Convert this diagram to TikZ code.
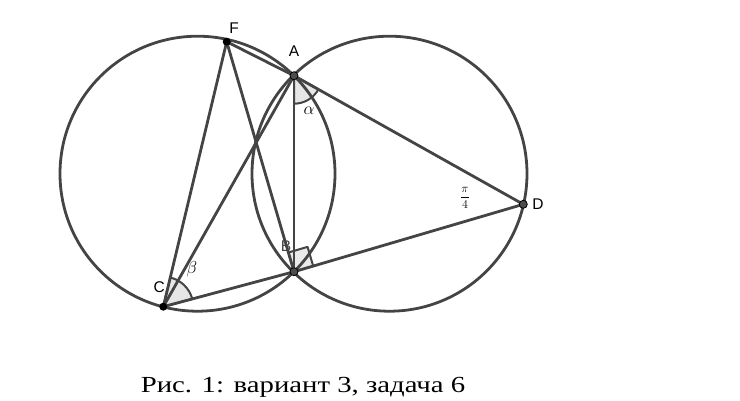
\documentclass[tikz,border=0pt]{standalone}
\usepackage[no-math]{fontspec}
\newfontfamily\capfont[FakeStretch=1.25]{Liberation Serif}
\newfontfamily\lblfont{Liberation Sans}
\definecolor{geo}{HTML}{444444}
\definecolor{geofill}{HTML}{E6E6E6}
\definecolor{ptgray}{HTML}{4D4D4D}
\begin{document}
\begin{tikzpicture}[x=1pt,y=-1pt,
  geoline/.style={draw=geo,line width=2.8pt,line cap=round},
  anglemark/.style={fill=geofill,draw=geo,line width=2pt,line join=round},
  blackpt/.style={circle,fill=black,inner sep=0pt,minimum size=8pt},
  graypt/.style={circle,fill=ptgray,draw=black,line width=0.8pt,inner sep=0pt,minimum size=8pt},
  ptlabel/.style={font=\lblfont\fontsize{15.5}{17}\selectfont,text=black,inner sep=0pt},
  mathlabel/.style={font=\fontsize{18}{20}\selectfont,inner sep=0pt}]
\useasboundingbox (0,0) rectangle (740,400);
\coordinate (F) at (226.7,41.7);
\coordinate (A) at (294,75.7);
\coordinate (B) at (294,271.7);
\coordinate (C) at (163.3,306.7);
\coordinate (D) at (523.3,204.3);
\coordinate (O1) at (197.5,173.7);
\coordinate (O2) at (389.5,173.7);
% angle marks
\filldraw[anglemark] (A) -- ++(-90:28pt) arc[start angle=-90,end angle=-29.3,radius=28pt] -- cycle;
\filldraw[anglemark] (C) -- ++(15:30pt) arc[start angle=15,end angle=76.5,radius=30pt] -- cycle;
% labels under the marks
\node[ptlabel,text=geo] (lB) at (286,246.5) {B};
\filldraw[anglemark,fill opacity=0.85] (B) -- ++(16.4:20pt) -- ++(106.3:20pt) -- ++(196.4:20pt) -- cycle;
% circles
\draw[geoline] (O1) circle[radius=137.5pt];
\draw[geoline] (O2) circle[radius=137.5pt];
% segments
\draw[geoline] (F) -- (A);
\draw[geoline] (F) -- (C);
\draw[geoline] (F) -- (B);
\draw[geoline] (A) -- (C);
\draw[geoline] (A) -- (B);
\draw[geoline] (A) -- (D);
\draw[geoline] (B) -- (D);
\draw[geoline] (C) -- (B);
% points
\node[blackpt] (pF) at (F) {};
\node[blackpt] (pC) at (C) {};
\node[graypt] (pA) at (A) {};
\node[graypt] (pB) at (B) {};
\node[graypt] (pD) at (D) {};
% labels
\node[ptlabel] (lF) at (234,28) {F};
\node[ptlabel] (lA) at (294,51.5) {A};
\node[ptlabel] (lC) at (159.3,286.7) {C};
\node[ptlabel] (lD) at (538,203.8) {D};
\node[mathlabel] (alpha) at (309,110.5) {$\alpha$};
\node[mathlabel] (beta) at (192,269) {$\beta$};
\node[font=\fontsize{12}{14}\selectfont,inner sep=0pt] (pi4) at (465,198) {$\displaystyle\frac{\pi}{4}$};
% caption
\node[font=\capfont\fontsize{23}{27}\selectfont,anchor=base,inner sep=0pt] (cap) at (303,392.7) {Рис. 1: вариант 3, задача 6};
\end{tikzpicture}
\end{document}
